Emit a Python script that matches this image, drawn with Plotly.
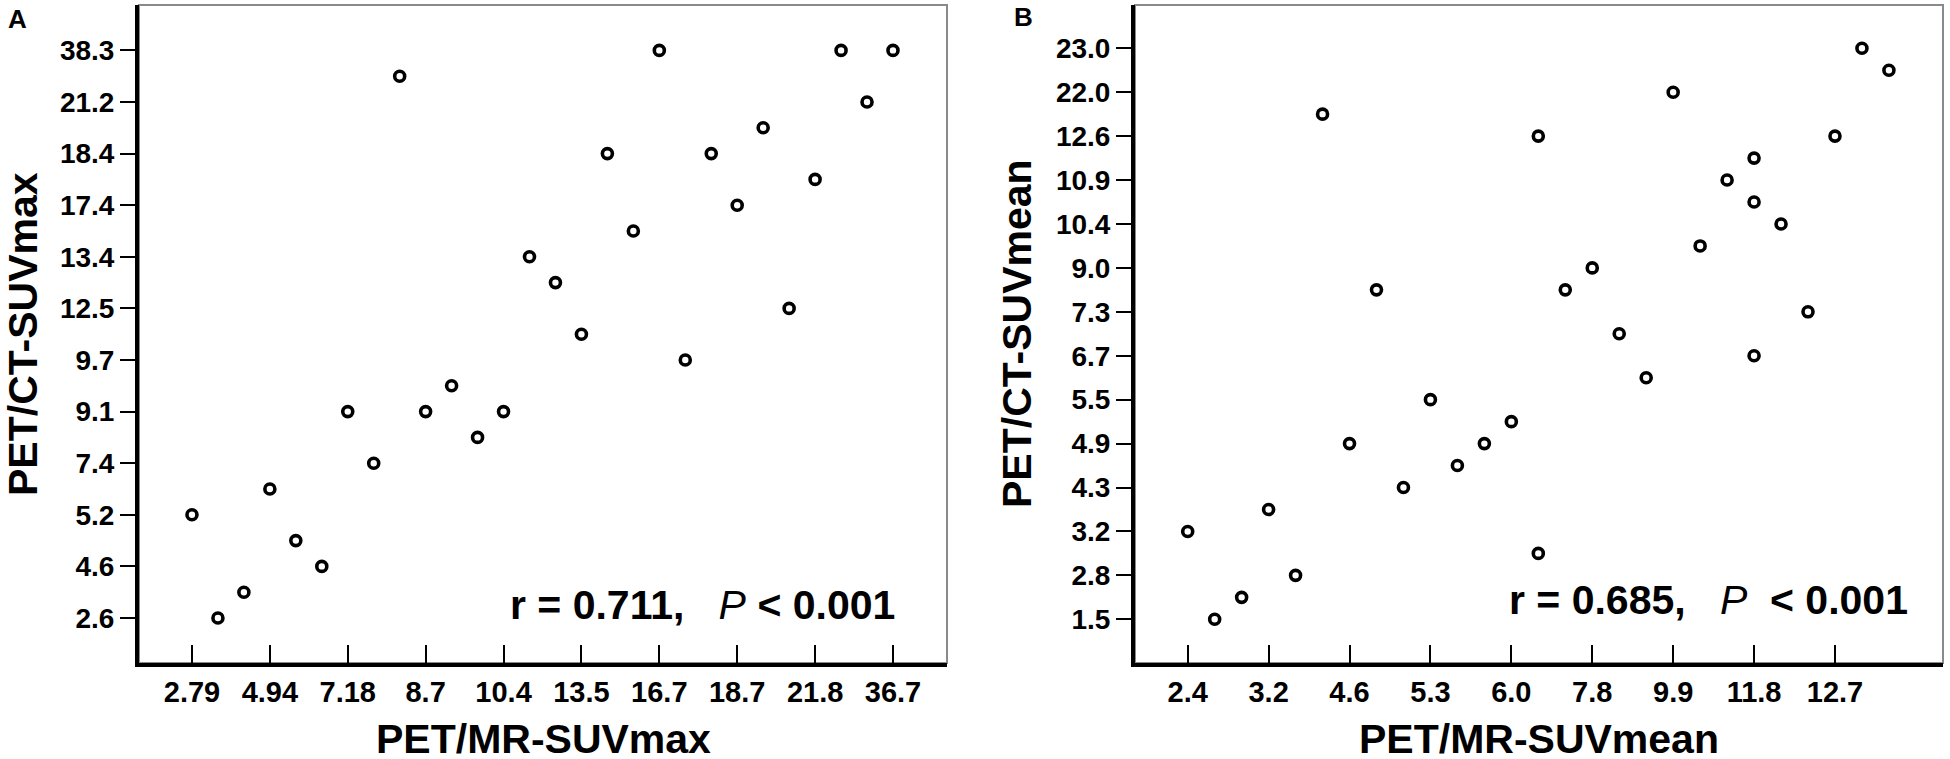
import plotly.graph_objects as go

# ---------------- Panel A data (ordinal positions) ----------------
a_x_labels = ["2.79", "4.94", "7.18", "8.7", "10.4", "13.5", "16.7", "18.7", "21.8", "36.7"]
a_y_labels = ["2.6", "4.6", "5.2", "7.4", "9.1", "9.7", "12.5", "13.4", "17.4", "18.4", "21.2", "38.3"]
a_x_rank = [0, 1, 2, 3, 4, 5, 6, 7, 8, 9, 10, 11, 12, 13, 14, 15, 16, 17, 18, 19, 20, 21, 22, 23, 24, 25, 26, 27]
a_y_rank = [4, 0, 1, 5, 3, 2, 8, 6, 21, 8, 9, 7, 8, 14, 13, 11, 18, 15, 22, 10, 18, 16, 19, 12, 17, 22, 20, 22]
a_stat = ("r = 0.711,", "P", "< 0.001")

# ---------------- Panel B data ----------------
b_x_labels = ["2.4", "3.2", "4.6", "5.3", "6.0", "7.8", "9.9", "11.8", "12.7"]
b_y_labels = ["1.5", "2.8", "3.2", "4.3", "4.9", "5.5", "6.7", "7.3", "9.0", "10.4", "10.9", "12.6", "22.0", "23.0"]
b_x_rank = [0, 1, 2, 3, 4, 5, 6, 7, 8, 9, 10, 11, 12, 13, 13, 14, 15, 16, 17, 18, 19, 20, 21, 21, 21, 22, 23, 24, 25, 26]
b_y_rank = [4, 0, 1, 5, 2, 23, 8, 15, 6, 10, 7, 8, 9, 22, 3, 15, 16, 13, 11, 24, 17, 20, 21, 19, 12, 18, 14, 22, 26, 25]
b_stat = ("r = 0.685,", "P", "&nbsp;< 0.001")

W, H = 1950, 759
FONT = "Liberation Sans, Arial, Helvetica, sans-serif"


def px(x):
    return x / W


def py(y):
    return 1 - y / H


fig = go.Figure()

marker = dict(symbol="circle-open", size=10, color="black", line=dict(width=3.6, color="black"))
fig.add_trace(go.Scatter(x=a_x_rank, y=a_y_rank, mode="markers", marker=marker,
                         xaxis="x", yaxis="y", showlegend=False))
fig.add_trace(go.Scatter(x=b_x_rank, y=b_y_rank, mode="markers", marker=marker,
                         xaxis="x2", yaxis="y2", showlegend=False))

tickfont_x = dict(family=FONT, size=29, color="black", weight="bold")
tickfont_y = dict(family=FONT, size=28, color="black", weight="bold")


def xaxis(domain, rng, labels):
    return dict(domain=domain, range=rng, tickmode="array",
                tickvals=[3 * i for i in range(len(labels))], ticktext=labels,
                ticks="inside", ticklen=18, tickwidth=2, tickcolor="black",
                showline=True, linewidth=4, linecolor="black", showgrid=False,
                zeroline=False, tickfont=tickfont_x, fixedrange=True)


def yaxis(domain, rng, labels, anchor):
    return dict(domain=domain, range=rng, tickmode="array", anchor=anchor,
                tickvals=[2 * i for i in range(len(labels))], ticktext=labels,
                ticks="outside", ticklen=15, tickwidth=2, tickcolor="black",
                showline=True, linewidth=4, linecolor="black", showgrid=False,
                zeroline=False, tickfont=tickfont_y, fixedrange=True)


ydom = [py(663), py(5)]
layout = dict(
    width=W, height=H, margin=dict(l=0, r=0, t=0, b=0),
    paper_bgcolor="white", plot_bgcolor="white",
    xaxis=xaxis([px(139), px(947)], [-2.04, 29.08], a_x_labels),
    yaxis=yaxis(ydom, [-1.744, 23.76], a_y_labels, "x"),
    xaxis2=dict(xaxis([px(1135), px(1943)], [-1.954, 28.005], b_x_labels), anchor="y2"),
    yaxis2=yaxis(ydom, [-1.99, 27.97], b_y_labels, "x2"),
)
fig.update_layout(**layout)

# thin grey frame (top/right edges)
for xr, yr in (("x domain", "y domain"), ("x2 domain", "y2 domain")):
    fig.add_shape(type="rect", xref=xr, yref=yr, x0=0, x1=1, y0=0, y1=1,
                  line=dict(color="#8a8a8a", width=2), layer="below")

title_font = dict(family=FONT, size=41, color="black", weight="bold")
ann = []
# axis titles
ann.append(dict(text="PET/MR-SUVmax", x=px(543), y=py(739), xref="paper", yref="paper",
                showarrow=False, font=title_font, xanchor="center", yanchor="middle"))
ann.append(dict(text="PET/MR-SUVmean", x=px(1539), y=py(739), xref="paper", yref="paper",
                showarrow=False, font=title_font, xanchor="center", yanchor="middle"))
ann.append(dict(text="PET/CT-SUVmax", x=px(23), y=py(334), xref="paper", yref="paper",
                showarrow=False, font=title_font, textangle=-90, xanchor="center", yanchor="middle"))
ann.append(dict(text="PET/CT-SUVmean", x=px(1017), y=py(333), xref="paper", yref="paper",
                showarrow=False, font=title_font, textangle=-90, xanchor="center", yanchor="middle"))
# panel letters
letter_font = dict(family=FONT, size=26, color="black", weight="bold")
ann.append(dict(text="A", x=px(17), y=py(19), xref="paper", yref="paper", showarrow=False,
                font=letter_font, xanchor="center", yanchor="middle"))
ann.append(dict(text="B", x=px(1023), y=py(17), xref="paper", yref="paper", showarrow=False,
                font=letter_font, xanchor="center", yanchor="middle"))
# statistics
stat_font = dict(family=FONT, size=41, color="black")


def stat_text(s):
    return "<b>%s</b>&nbsp;&nbsp;&nbsp;<i>%s</i> <b>%s</b>" % s


ann.append(dict(text=stat_text(a_stat), x=px(897), y=py(605), xref="paper", yref="paper",
                showarrow=False, font=stat_font, xanchor="right", yanchor="middle"))
ann.append(dict(text=stat_text(b_stat), x=px(1910), y=py(600), xref="paper", yref="paper",
                showarrow=False, font=stat_font, xanchor="right", yanchor="middle"))
fig.update_layout(annotations=ann)

fig.write_html("out.html", config={"displayModeBar": False},
               post_script="document.body.style.margin='0';")
